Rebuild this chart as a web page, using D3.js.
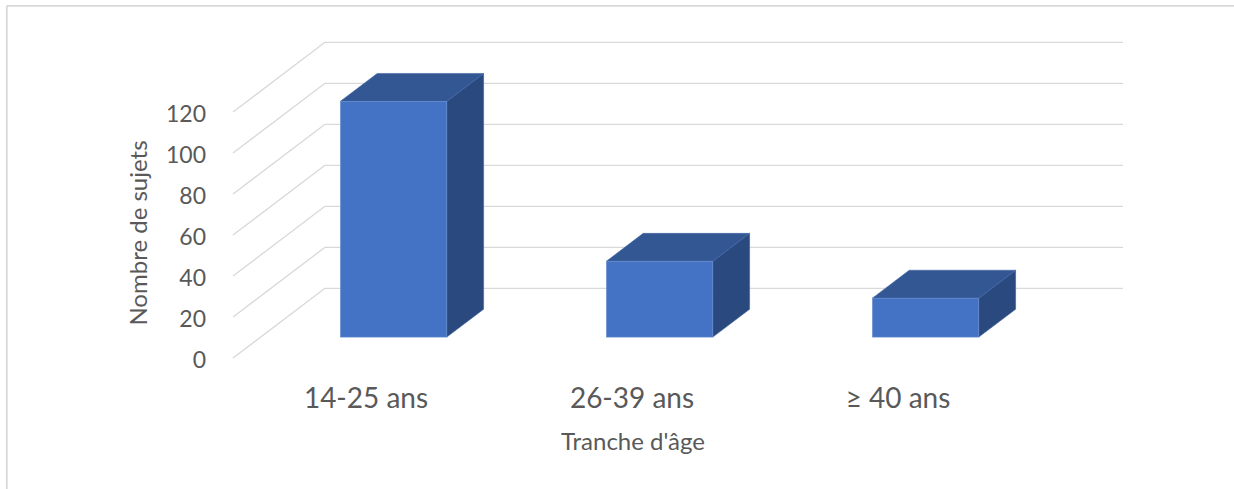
<!DOCTYPE html>
<html>
<head>
<meta charset="utf-8">
<script src="https://cdn.jsdelivr.net/npm/d3@7"></script>
<style>
  html, body { margin: 0; padding: 0; background: #fff; }
  svg { display: block; }
  text { font-family: Lato, "Open Sans", sans-serif; fill: #595959; }
</style>
</head>
<body>
<svg id="chart" width="1234" height="489"></svg>
<script>
const categories = ["14-25 ans", "26-39 ans", "≥ 40 ans"];
const values = [115, 37, 19];
const yTicks = [0, 20, 40, 60, 80, 100, 120];
const xTitle = "Tranche d'âge";
const yTitle = "Nombre de sujets";

const W = 1234, H = 489;
const svg = d3.select("#chart");

// frame (only top and left edges visible)
svg.append("line").attr("x1", 6.8).attr("y1", 5.8).attr("x2", W).attr("y2", 5.8)
  .attr("stroke", "#d9d9d9").attr("stroke-width", 1.8);
svg.append("line").attr("x1", 6.8).attr("y1", 5.8).attr("x2", 6.8).attr("y2", H)
  .attr("stroke", "#d9d9d9").attr("stroke-width", 1.8);

// oblique projection: depth vector
const DX = 92, DY = -69.7;
const x = d3.scaleBand().domain(categories).range([233, 1031])
  .paddingInner(0.6).paddingOuter(0.3);
const y = d3.scaleLinear().domain([0, 120]).range([358, 112]);
const z0 = 0.3, z1 = 0.7;

// gridlines: side diagonals + back wall lines
const grid = svg.append("g").attr("stroke", "#d9d9d9").attr("stroke-width", 1.3).attr("fill", "none");
yTicks.forEach(t => {
  grid.append("line").attr("x1", 233).attr("y1", y(t)).attr("x2", 233 + DX).attr("y2", y(t) + DY);
  grid.append("line").attr("x1", 233 + DX).attr("y1", y(t) + DY).attr("x2", 1031 + DX).attr("y2", y(t) + DY);
});

// y tick labels
svg.append("g").selectAll("text").data(yTicks).join("text")
  .attr("x", 206).attr("y", d => y(d) + 1)
  .attr("text-anchor", "end").attr("dominant-baseline", "central")
  .attr("font-size", 23).text(d => d);

// bars
const bars = svg.append("g");
categories.forEach((c, i) => {
  const v = values[i];
  const xl = x(c) + z0 * DX, xr = xl + x.bandwidth();
  const yt = y(v) + z0 * DY, yb = y(0) + z0 * DY;
  const ddx = (z1 - z0) * DX, ddy = (z1 - z0) * DY;
  // side face
  bars.append("path")
    .attr("d", d3.line()([[xr, yt], [xr + ddx, yt + ddy], [xr + ddx, yb + ddy], [xr, yb]]) + "Z")
    .attr("fill", "#2a4a7f").attr("stroke", "#3a5f9e").attr("stroke-width", 0.6);
  // top face
  bars.append("path")
    .attr("d", d3.line()([[xl, yt], [xr, yt], [xr + ddx, yt + ddy], [xl + ddx, yt + ddy]]) + "Z")
    .attr("fill", "#335793").attr("stroke", "#4166a6").attr("stroke-width", 0.6);
  // front face
  bars.append("rect")
    .attr("x", xl).attr("y", yt).attr("width", xr - xl).attr("height", yb - yt)
    .attr("fill", "#4472c4").attr("stroke", "#6a8fd0").attr("stroke-width", 0.6);
});

// x category labels
svg.append("g").selectAll("text").data(categories).join("text")
  .attr("x", d => x(d) + x.bandwidth() / 2).attr("y", 408)
  .attr("text-anchor", "middle").attr("font-size", 28).text(d => d);

// axis titles
svg.append("text").attr("x", 633).attr("y", 450).attr("text-anchor", "middle")
  .attr("font-size", 24).text(xTitle);
svg.append("text").attr("transform", "translate(146.5,233) rotate(-90)")
  .attr("text-anchor", "middle").attr("font-size", 24).text(yTitle);
</script>
</body>
</html>
